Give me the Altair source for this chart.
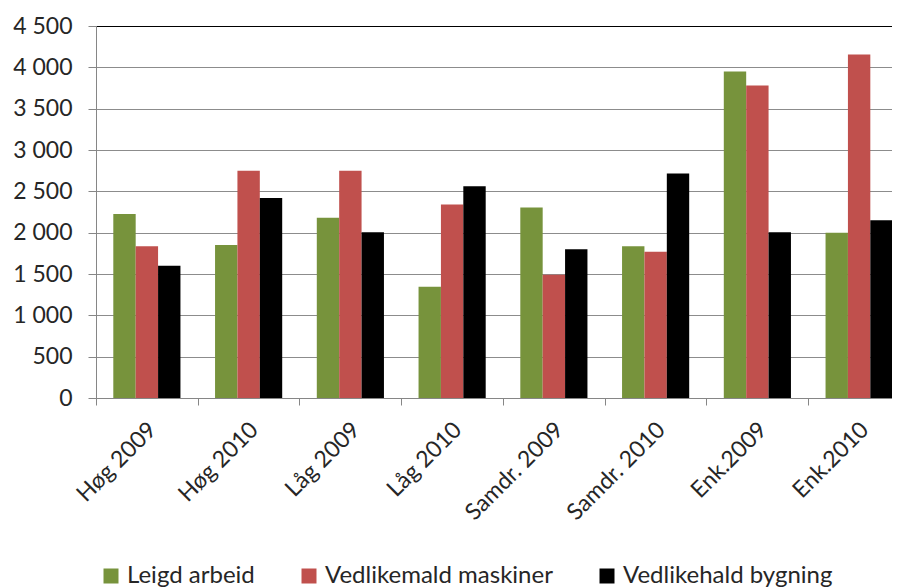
import altair as alt
import pandas as pd

categories = ["Høg 2009", "Høg 2010", "Låg 2009", "Låg 2010",
              "Samdr. 2009", "Samdr. 2010", "Enk.2009", "Enk.2010"]
series = ["Leigd arbeid", "Vedlikemald maskiner", "Vedlikehald bygning"]
leigd_arbeid = [2225, 1850, 2180, 1345, 2305, 1835, 3950, 2000]
vedlikehald_maskiner = [1835, 2750, 2750, 2340, 1490, 1770, 3780, 4155]
vedlikehald_bygning = [1600, 2420, 2005, 2560, 1800, 2715, 2005, 2150]
colors = ["#77933C", "#C0504D", "#000000"]
y_ticks = [0, 500, 1000, 1500, 2000, 2500, 3000, 3500, 4000, 4500]

rows = []
for name, vals in zip(series, [leigd_arbeid, vedlikehald_maskiner, vedlikehald_bygning]):
    for c, v in zip(categories, vals):
        rows.append({"kategori": c, "serie": name, "verdi": v})
df = pd.DataFrame(rows)

FONT = "Lato"
TXT = "#262626"

chart = alt.Chart(df).mark_bar().encode(
    x=alt.X(
        "kategori:N",
        sort=categories,
        scale=alt.Scale(range=[0, 814], paddingInner=0.34, paddingOuter=0.17),
        axis=alt.Axis(
            title=None,
            labelAngle=-45,
            bandPosition=0,
            tickOffset=-17.3,
            labelOffset=15,
            labelPadding=13,
            labelFont=FONT,
            labelFontSize=23,
            labelColor=TXT,
            tickSize=7,
            tickColor="#868686",
            domainColor="#868686",
            grid=False,
        ),
    ),
    xOffset=alt.XOffset("serie:N", sort=series,
                        scale=alt.Scale(paddingInner=0, paddingOuter=0)),
    y=alt.Y(
        "verdi:Q",
        scale=alt.Scale(domain=[0, 4500], nice=False),
        axis=alt.Axis(
            title=None,
            values=y_ticks,
            labelExpr="replace(format(datum.value, ','), ',', ' ')",
            labelFont=FONT,
            labelFontSize=23,
            labelColor=TXT,
            labelPadding=16,
            tickSize=8,
            tickColor="#868686",
            domainColor="#868686",
            gridColor={"condition": {"test": "datum.value === 4500", "value": "#000000"},
                       "value": "#8c8c8c"},
        ),
    ),
    color=alt.Color(
        "serie:N",
        sort=series,
        scale=alt.Scale(domain=series, range=colors),
        legend=alt.Legend(
            title=None,
            orient="none",
            direction="horizontal",
            legendX=3,
            legendY=538,
            padding=0,
            symbolType="square",
            symbolSize=225,
            symbolStrokeWidth=0,
            symbolOpacity=1,
            labelFont=FONT,
            labelFontSize=24,
            labelColor=TXT,
            labelLimit=0,
            labelOffset=4,
            columnPadding=42,
        ),
    ),
).properties(
    width=796,
    height=372,
    autosize=alt.AutoSizeParams(type="none"),
    padding={"left": 88, "top": 18, "right": 0, "bottom": 190},
).configure_view(stroke=None)

chart.save("out.html", embed_options={"renderer": "svg", "actions": False})
